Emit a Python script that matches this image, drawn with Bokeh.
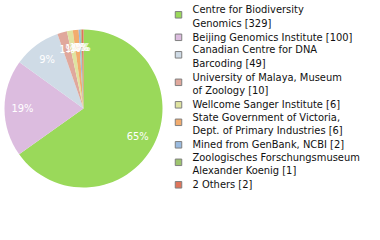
import numpy as np
from bokeh.plotting import figure
from bokeh.models import Range1d, ColumnDataSource
from bokeh.core.properties import value
from bokeh.embed import file_html
from bokeh.resources import INLINE

labels = ["Centre for Biodiversity\nGenomics", "Beijing Genomics Institute",
          "Canadian Centre for DNA\nBarcoding", "University of Malaya, Museum\nof Zoology",
          "Wellcome Sanger Institute", "State Government of Victoria,\nDept. of Primary Industries",
          "Mined from GenBank, NCBI", "Zoologisches Forschungsmuseum\nAlexander Koenig", "2 Others"]
counts = [329, 100, 49, 10, 6, 6, 2, 1, 2]
colors = ["#9ad95a", "#dcbcdf", "#cfdbe6", "#e0a89c", "#dfe3a0",
          "#f2ac6e", "#9abbe0", "#9dc46e", "#e0745a"]

W, H = 380, 240
FONT = "DejaVu Sans Condensed"
cx, cy, R = 83, H - 108, 79

counts_a = np.array(counts, dtype=float)
frac = counts_a / counts_a.sum()
cum = np.concatenate([[0], np.cumsum(frac)])
start = np.pi / 2 - 2 * np.pi * cum[:-1]
end = np.pi / 2 - 2 * np.pi * cum[1:]
mid = (start + end) / 2
pct = [f"{int(np.floor(f * 100))}%" for f in frac]

p = figure(width=W, height=H, output_backend="svg", toolbar_location=None,
           x_range=Range1d(0, W), y_range=Range1d(0, H), min_border=0)
p.axis.visible = False
p.grid.visible = False
p.outline_line_color = None
p.background_fill_color = "white"
p.border_fill_color = "white"

src = ColumnDataSource(dict(start=start, end=end, color=colors))
p.wedge(x=cx, y=cy, radius=R, start_angle="start", end_angle="end", direction="clock",
        fill_color="color", line_color=None, source=src)

lr = 61
lsrc = ColumnDataSource(dict(x=cx + lr * np.cos(mid), y=cy + lr * np.sin(mid), t=pct))
p.text(x="x", y="y", text="t", source=lsrc, text_color="white", text_font=value(FONT),
       text_font_size="11px", text_align="center", text_baseline="middle")

# legend
nlines = [l.count("\n") + 1 for l in labels]
ys = []
y = 9.0
for n in nlines:
    ys.append(y)
    y += 12.5 * n + (2.5 if n == 2 else 0)
ys = np.array(ys)
sq_y = ys + np.array([5.3 if n == 2 else 0.3 for n in nlines])
texts = [f"{l} [{c}]" for l, c in zip(labels, counts)]
gsrc = ColumnDataSource(dict(ty=H - ys + 6.5, sy=H - sq_y, t=texts, color=colors))
p.rect(x=178, y="sy", width=6.5, height=6.5, fill_color="color", line_color="#7f7f7f",
       line_width=1, source=gsrc)
p.text(x=192, y="ty", text="t", source=gsrc, text_color="#111111", text_font=value(FONT),
       text_font_size="11px", text_align="left", text_baseline="top", text_line_height=1.06)

open("out.html", "w").write(file_html(p, INLINE))
